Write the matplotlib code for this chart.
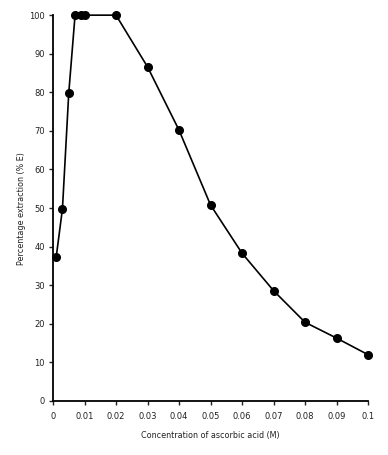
import matplotlib
matplotlib.use("Agg")
import matplotlib.pyplot as plt

# Concentration of ascorbic acid (M) and percentage extraction (% E).
concentration = [0.001, 0.003, 0.005, 0.007, 0.009, 0.01, 0.02, 0.03,
                 0.04, 0.05, 0.06, 0.07, 0.08, 0.09, 0.1]
extraction = [37.2, 49.8, 79.8, 100, 100, 100, 100, 86.6,
              70.2, 50.8, 38.3, 28.6, 20.4, 16.3, 12.0]

x_ticks = [0, 0.01, 0.02, 0.03, 0.04, 0.05, 0.06, 0.07, 0.08, 0.09, 0.1]
x_tick_labels = ["0", "0.01", "0.02", "0.03", "0.04", "0.05",
                 "0.06", "0.07", "0.08", "0.09", "0.1"]
y_ticks = [0, 10, 20, 30, 40, 50, 60, 70, 80, 90, 100]

plt.rcParams["font.family"] = ["DejaVu Sans"]

fig = plt.figure(figsize=(3.88, 4.55), dpi=100)
ax = fig.add_axes([0.1366, 0.1187, 0.812, 0.848])

ax.plot(concentration, extraction, color="black", linewidth=1.2,
        marker="o", markersize=5.5, clip_on=False, zorder=3)

ax.set_xlim(0, 0.1)
ax.set_ylim(0, 100)
ax.set_xticks(x_ticks)
ax.set_xticklabels(x_tick_labels)
ax.set_yticks(y_ticks)

for side in ["top", "right"]:
    ax.spines[side].set_visible(False)
for side in ["left", "bottom"]:
    ax.spines[side].set_linewidth(1.3)

ax.tick_params(axis="both", direction="out", length=3, width=1,
               labelsize=6, colors="#222222", pad=5)
ax.tick_params(axis="y", pad=3)

ax.set_xlabel("Concentration of ascorbic acid (M)", fontsize=5.8,
              labelpad=7, color="#222222")
ax.set_ylabel("Percentage extraction (% E)", fontsize=5.8,
              labelpad=2, color="#222222")

fig.savefig("out.png", dpi=100)
